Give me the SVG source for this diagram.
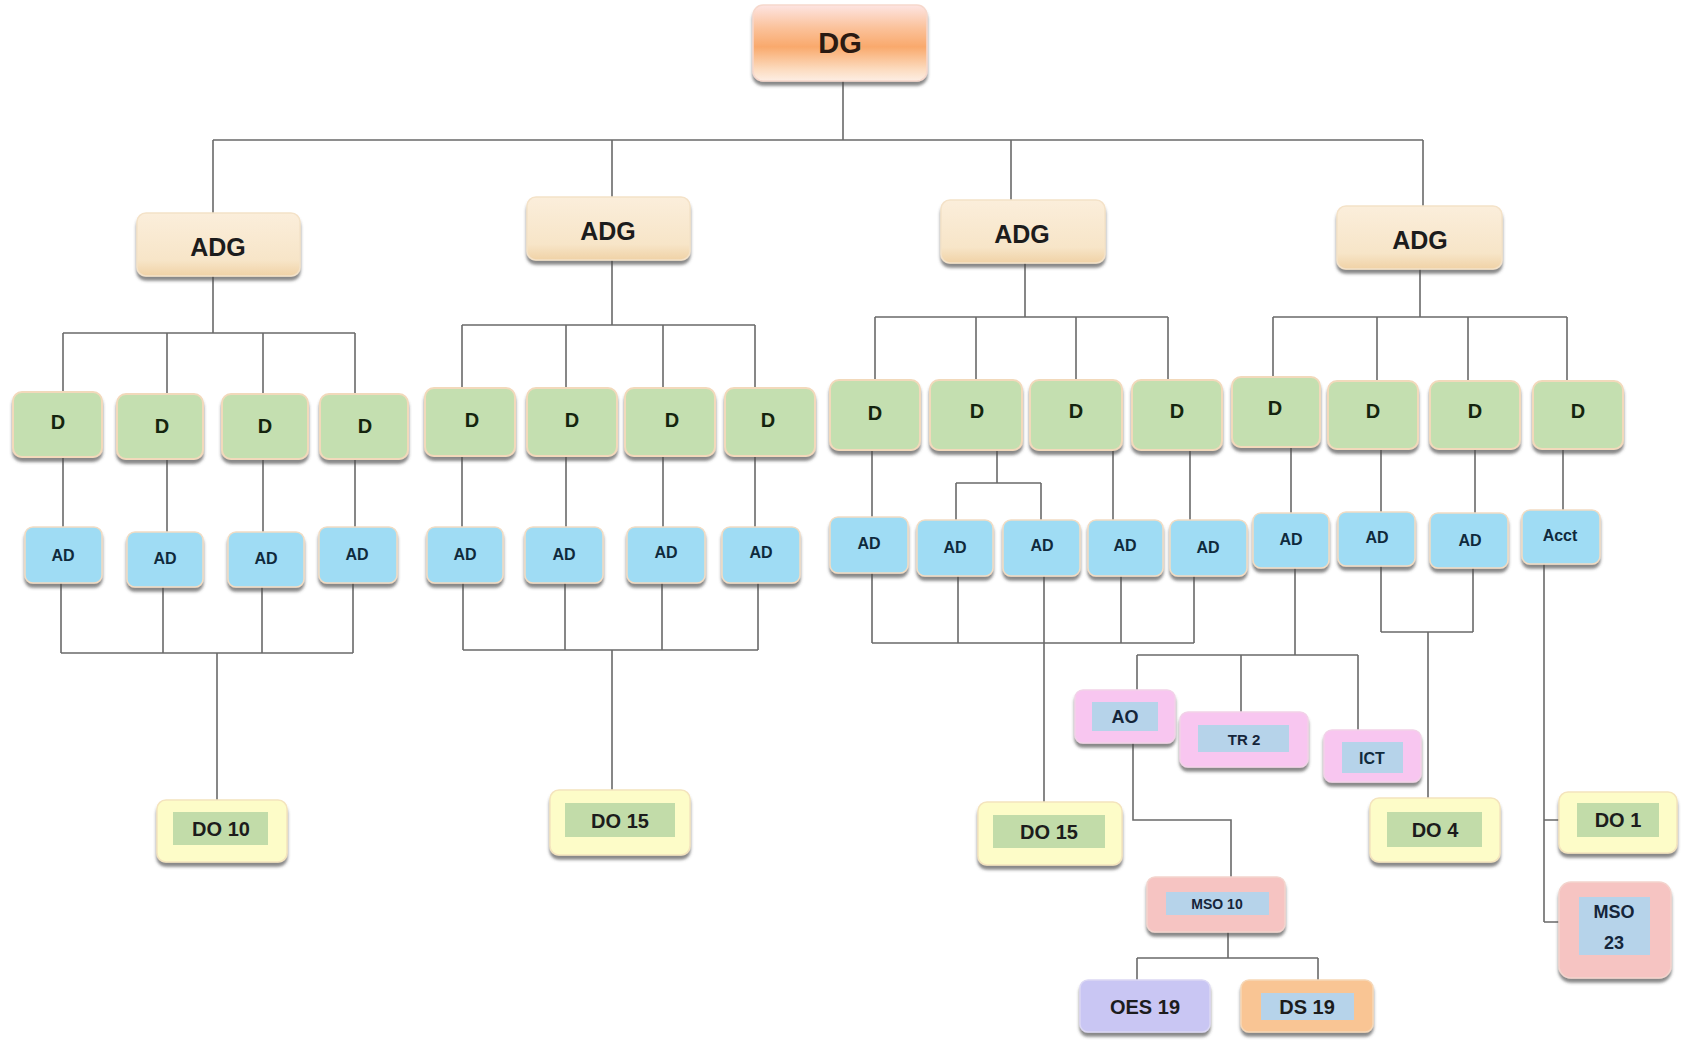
<svg xmlns="http://www.w3.org/2000/svg" width="1686" height="1047" viewBox="0 0 1686 1047">
<defs>
  <filter id="sh" x="-10%" y="-10%" width="120%" height="130%">
    <feDropShadow dx="0" dy="4" stdDeviation="1.8" flood-color="#4a4a4a" flood-opacity="0.65"/>
  </filter>
  <linearGradient id="gDG" x1="0" y1="0" x2="0" y2="1">
    <stop offset="0" stop-color="#fde4e2"/>
    <stop offset="0.3" stop-color="#fbc29b"/>
    <stop offset="0.55" stop-color="#f9a96c"/>
    <stop offset="0.85" stop-color="#fcdcc0"/>
    <stop offset="1" stop-color="#fdeee4"/>
  </linearGradient>
  <linearGradient id="gADG" x1="0" y1="0" x2="0" y2="1">
    <stop offset="0" stop-color="#fbeedb"/>
    <stop offset="0.75" stop-color="#f7e5c8"/>
    <stop offset="1" stop-color="#f0d2a6"/>
  </linearGradient>
</defs>
<style>
  .n { filter: url(#sh); }
  .dg { fill: url(#gDG); stroke: #f6d8cc; stroke-width: 1.5; }
  .adg { fill: url(#gADG); stroke: #f4e2c8; stroke-width: 1.5; }
  .d { fill: #c4dfb0; stroke: #f2d9bb; stroke-width: 2; }
  .ad { fill: #9fdcf4; stroke: #f2dcc3; stroke-width: 1.5; }
  .do { fill: #fdfcc8; stroke: #f4e4bd; stroke-width: 1.5; }
  .pk { fill: #f8c6f0; stroke: #f2d2e8; stroke-width: 1.5; }
  .ms { fill: #f6c4c2; stroke: #f3d4cd; stroke-width: 1.5; }
  .oe { fill: #c9c6f3; stroke: #dcd8f4; stroke-width: 1.5; }
  .ds { fill: #f9c594; stroke: #f6d7b6; stroke-width: 1.5; }
  .ig { fill: #c2dca9; }
  .ib { fill: #b6d3ea; }
  text { font-family: "Liberation Sans", Arial, sans-serif; font-weight: bold; text-anchor: middle; dominant-baseline: central; fill: #1c1c1c; }
  .t28 { font-size: 29px; fill: #2a1a12; }
  .t24 { font-size: 25px; }
  .t20 { font-size: 20px; fill: #14240e; }
  .t17 { font-size: 16px; fill: #0f2a3c; }
  .t21 { font-size: 20px; }
  .t18 { font-size: 18px; fill: #15253a; }
  .t15 { font-size: 15px; fill: #15253a; }
  .t14 { font-size: 14px; fill: #15253a; }
  .c { fill: none; stroke: #6a6a6a; stroke-width: 1.6; }
</style>

<g id="connectors" class="c">
  <!-- top -->
  <path d="M843 81V140 M213 140H1423 M213 140V213 M612 140V197 M1011 140V200 M1423 140V206"/>
  <!-- group 1 -->
  <path d="M213 276V333 M63 333H355 M63 333V392 M167 333V394 M263 333V394 M355 333V394"/>
  <path d="M63 457V527 M167 459V532 M263 459V532 M355 459V527"/>
  <path d="M61 583V653 M163 587V653 M262 587V653 M353 583V653 M61 653H353 M217 653V800"/>
  <!-- group 2 -->
  <path d="M612 260V325 M462 325H755 M462 325V388 M566 325V388 M663 325V388 M755 325V388"/>
  <path d="M462 456V527 M566 456V527 M663 456V527 M755 456V527"/>
  <path d="M463 583V650 M565 583V650 M662 583V650 M758 583V650 M463 650H758 M612 650V790"/>
  <!-- group 3 -->
  <path d="M1025 263V317 M875 317H1168 M875 317V380 M976 317V380 M1076 317V380 M1168 317V380"/>
  <path d="M872 450V517 M997 450V483 M956 483H1041 M956 483V520 M1041 483V520 M1113 450V520 M1190 450V520"/>
  <path d="M872 573V643 M958 576V643 M1044 576V802 M1121 576V643 M1194 576V643 M872 643H1194"/>
  <!-- group 4 -->
  <path d="M1420 269V317 M1273 317H1567 M1273 317V377 M1377 317V381 M1468 317V381 M1567 317V381"/>
  <path d="M1291 447V513 M1381 449V512 M1475 449V513 M1563 449V510"/>
  <path d="M1295 568V655 M1137 655H1358 M1137 655V690 M1241 655V712 M1358 655V730"/>
  <path d="M1381 566V632 M1473 568V632 M1381 632H1473 M1428 632V798"/>
  <path d="M1544 564V922 M1544 820H1559 M1544 922H1559"/>
  <path d="M1133 743V820H1231V877"/>
  <path d="M1228 932V958 M1137 958H1318 M1137 958V980 M1318 958V980"/>
</g>

<g id="dg"><rect class="n dg" x="753" y="5" width="174" height="76" rx="10"/><text class="t28" x="840" y="43">DG</text></g>

<g id="adg1"><rect class="n adg" x="137" y="213" width="163" height="63" rx="9"/><text class="t24" x="218" y="247">ADG</text></g>
<g id="adg2"><rect class="n adg" x="527" y="197" width="163" height="63" rx="9"/><text class="t24" x="608" y="231">ADG</text></g>
<g id="adg3"><rect class="n adg" x="941" y="200" width="164" height="63" rx="9"/><text class="t24" x="1022" y="234">ADG</text></g>
<g id="adg4"><rect class="n adg" x="1337" y="206" width="165" height="63" rx="9"/><text class="t24" x="1420" y="240">ADG</text></g>

<g id="d1"><rect class="n d" x="13" y="392" width="89" height="65" rx="9"/><text class="t20" x="58" y="422">D</text></g>
<g id="d2"><rect class="n d" x="117" y="394" width="86" height="65" rx="9"/><text class="t20" x="162" y="426">D</text></g>
<g id="d3"><rect class="n d" x="222" y="394" width="86" height="65" rx="9"/><text class="t20" x="265" y="426">D</text></g>
<g id="d4"><rect class="n d" x="320" y="394" width="88" height="65" rx="9"/><text class="t20" x="365" y="426">D</text></g>
<g id="d5"><rect class="n d" x="425" y="388" width="90" height="68" rx="9"/><text class="t20" x="472" y="420">D</text></g>
<g id="d6"><rect class="n d" x="527" y="388" width="90" height="68" rx="9"/><text class="t20" x="572" y="420">D</text></g>
<g id="d7"><rect class="n d" x="625" y="388" width="90" height="68" rx="9"/><text class="t20" x="672" y="420">D</text></g>
<g id="d8"><rect class="n d" x="725" y="388" width="90" height="68" rx="9"/><text class="t20" x="768" y="420">D</text></g>
<g id="d9"><rect class="n d" x="830" y="380" width="90" height="70" rx="9"/><text class="t20" x="875" y="413">D</text></g>
<g id="d10"><rect class="n d" x="930" y="380" width="92" height="70" rx="9"/><text class="t20" x="977" y="411">D</text></g>
<g id="d11"><rect class="n d" x="1030" y="380" width="92" height="70" rx="9"/><text class="t20" x="1076" y="411">D</text></g>
<g id="d12"><rect class="n d" x="1132" y="380" width="90" height="70" rx="9"/><text class="t20" x="1177" y="411">D</text></g>
<g id="d13"><rect class="n d" x="1232" y="377" width="88" height="70" rx="9"/><text class="t20" x="1275" y="408">D</text></g>
<g id="d14"><rect class="n d" x="1328" y="381" width="90" height="68" rx="9"/><text class="t20" x="1373" y="411">D</text></g>
<g id="d15"><rect class="n d" x="1430" y="381" width="90" height="68" rx="9"/><text class="t20" x="1475" y="411">D</text></g>
<g id="d16"><rect class="n d" x="1533" y="381" width="90" height="68" rx="9"/><text class="t20" x="1578" y="411">D</text></g>

<g id="ad1"><rect class="n ad" x="25" y="527" width="77" height="56" rx="8"/><text class="t17" x="63" y="555">AD</text></g>
<g id="ad2"><rect class="n ad" x="127" y="532" width="76" height="55" rx="8"/><text class="t17" x="165" y="558">AD</text></g>
<g id="ad3"><rect class="n ad" x="228" y="532" width="76" height="55" rx="8"/><text class="t17" x="266" y="558">AD</text></g>
<g id="ad4"><rect class="n ad" x="319" y="527" width="78" height="56" rx="8"/><text class="t17" x="357" y="554">AD</text></g>
<g id="ad5"><rect class="n ad" x="427" y="527" width="76" height="56" rx="8"/><text class="t17" x="465" y="554">AD</text></g>
<g id="ad6"><rect class="n ad" x="525" y="527" width="78" height="56" rx="8"/><text class="t17" x="564" y="554">AD</text></g>
<g id="ad7"><rect class="n ad" x="627" y="527" width="78" height="56" rx="8"/><text class="t17" x="666" y="552">AD</text></g>
<g id="ad8"><rect class="n ad" x="722" y="527" width="78" height="56" rx="8"/><text class="t17" x="761" y="552">AD</text></g>
<g id="ad9"><rect class="n ad" x="830" y="517" width="78" height="56" rx="8"/><text class="t17" x="869" y="543">AD</text></g>
<g id="ad10"><rect class="n ad" x="917" y="520" width="76" height="56" rx="8"/><text class="t17" x="955" y="547">AD</text></g>
<g id="ad11"><rect class="n ad" x="1003" y="520" width="77" height="56" rx="8"/><text class="t17" x="1042" y="545">AD</text></g>
<g id="ad12"><rect class="n ad" x="1088" y="520" width="75" height="56" rx="8"/><text class="t17" x="1125" y="545">AD</text></g>
<g id="ad13"><rect class="n ad" x="1170" y="520" width="77" height="56" rx="8"/><text class="t17" x="1208" y="547">AD</text></g>
<g id="ad14"><rect class="n ad" x="1253" y="513" width="76" height="55" rx="8"/><text class="t17" x="1291" y="539">AD</text></g>
<g id="ad15"><rect class="n ad" x="1338" y="512" width="77" height="54" rx="8"/><text class="t17" x="1377" y="537">AD</text></g>
<g id="ad16"><rect class="n ad" x="1430" y="513" width="78" height="55" rx="8"/><text class="t17" x="1470" y="540">AD</text></g>
<g id="acct"><rect class="n ad" x="1522" y="510" width="78" height="54" rx="8"/><text class="t17" x="1560" y="535">Acct</text></g>

<g id="do10"><rect class="n do" x="157" y="800" width="130" height="62" rx="9"/><rect class="ig" x="173" y="812" width="95" height="33"/><text class="t21" x="221" y="829">DO 10</text></g>
<g id="do15a"><rect class="n do" x="550" y="790" width="140" height="65" rx="9"/><rect class="ig" x="565" y="803" width="110" height="34"/><text class="t21" x="620" y="821">DO 15</text></g>
<g id="do15b"><rect class="n do" x="978" y="802" width="144" height="63" rx="9"/><rect class="ig" x="993" y="815" width="112" height="33"/><text class="t21" x="1049" y="832">DO 15</text></g>
<g id="do4"><rect class="n do" x="1370" y="798" width="130" height="64" rx="9"/><rect class="ig" x="1387" y="812" width="95" height="35"/><text class="t21" x="1435" y="830">DO 4</text></g>
<g id="do1"><rect class="n do" x="1559" y="792" width="118" height="61" rx="9"/><rect class="ig" x="1577" y="803" width="82" height="34"/><text class="t21" x="1618" y="820">DO 1</text></g>

<g id="ao"><rect class="n pk" x="1075" y="690" width="100" height="53" rx="8"/><rect class="ib" x="1092" y="702" width="66" height="29"/><text class="t18" x="1125" y="717">AO</text></g>
<g id="tr2"><rect class="n pk" x="1180" y="712" width="128" height="55" rx="8"/><rect class="ib" x="1198" y="725" width="91" height="27"/><text class="t15" x="1244" y="739">TR 2</text></g>
<g id="ict"><rect class="n pk" x="1324" y="730" width="97" height="52" rx="8"/><rect class="ib" x="1342" y="742" width="61" height="31"/><text class="t17" x="1372" y="758">ICT</text></g>

<g id="mso10"><rect class="n ms" x="1147" y="877" width="138" height="55" rx="8"/><rect class="ib" x="1166" y="892" width="103" height="23"/><text class="t14" x="1217" y="904">MSO 10</text></g>
<g id="mso23"><rect class="n ms" x="1559" y="882" width="112" height="96" rx="12"/><rect class="ib" x="1579" y="897" width="71" height="58"/><text class="t18" x="1614" y="912">MSO</text><text class="t18" x="1614" y="943">23</text></g>

<g id="oes19"><rect class="n oe" x="1080" y="980" width="130" height="52" rx="8"/><text class="t21" x="1145" y="1007">OES 19</text></g>
<g id="ds19"><rect class="n ds" x="1241" y="980" width="132" height="52" rx="8"/><rect class="ib" x="1261" y="993" width="93" height="27"/><text class="t21" x="1307" y="1007">DS 19</text></g>
</svg>
